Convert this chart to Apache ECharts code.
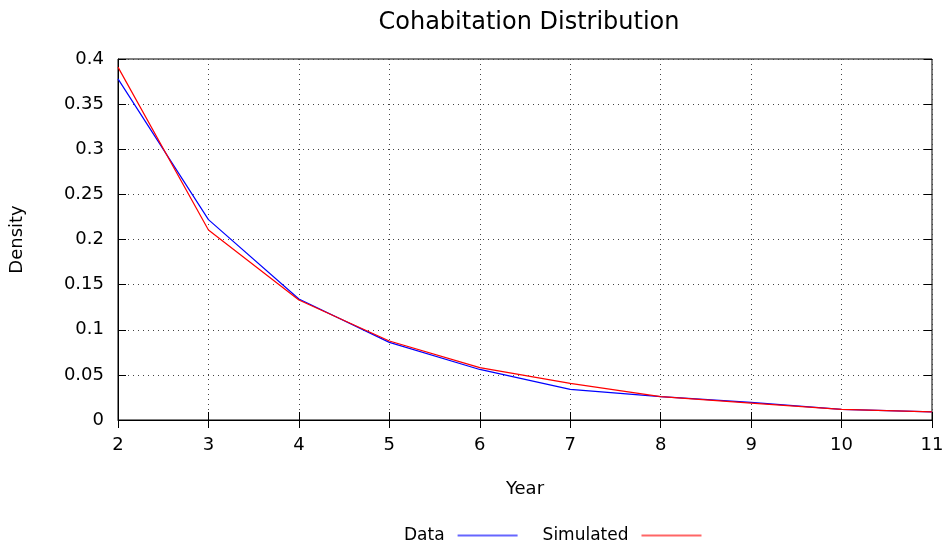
<!DOCTYPE html>
<html>
<head>
<meta charset="utf-8">
<script src="https://cdn.jsdelivr.net/npm/echarts@6/dist/echarts.min.js"></script>
<style>
  html, body { margin: 0; padding: 0; background: #fff; }
  #main { width: 950px; height: 554px; }
</style>
</head>
<body>
<div id="main"></div>
<script>
var years = [2, 3, 4, 5, 6, 7, 8, 9, 10, 11];
var dataValues = [0.378, 0.222, 0.134, 0.086, 0.056, 0.034, 0.026, 0.0196, 0.0118, 0.0089];
var simulatedValues = [0.391, 0.2105, 0.133, 0.0875, 0.058, 0.0406, 0.0258, 0.0188, 0.0118, 0.0089];

function pairs(xs, ys) {
  return xs.map(function (x, i) { return [x, ys[i]]; });
}

var myChart = echarts.init(document.getElementById('main'));
var font = 'DejaVu Sans';
var option = {
  animation: false,
  title: {
    text: 'Cohabitation Distribution',
    left: 524,
    textAlign: 'center',
    top: 6,
    textStyle: { fontFamily: font, fontWeight: 'normal', fontSize: 24, color: '#000' }
  },
  legend: {
    bottom: 5,
    left: 399,
    align: 'right',
    itemWidth: 60,
    itemHeight: 2,
    itemGap: 25,
    icon: 'rect',
    itemStyle: { borderWidth: 0 },
    textStyle: { fontFamily: font, fontSize: 17, color: '#000', padding: [0, 8, 0, 0] },
    data: [
      { name: 'Data', itemStyle: { color: '#6666ff', borderWidth: 0 } },
      { name: 'Simulated', itemStyle: { color: '#ff6666', borderWidth: 0 } }
    ]
  },
  grid: {
    left: 117, right: 18, top: 59, bottom: 134,
    show: true, borderColor: '#000', borderWidth: 1
  },
  xAxis: [{
    type: 'value',
    min: 2, max: 11, interval: 1,
    name: 'Year',
    nameLocation: 'middle',
    nameGap: 60,
    nameTextStyle: { fontFamily: font, fontSize: 18, color: '#000' },
    axisLine: { lineStyle: { color: '#000' } },
    axisTick: { inside: true, length: 8, lineStyle: { color: '#000' } },
    axisLabel: { fontFamily: font, fontSize: 18, color: '#000', margin: 16 },
    splitLine: { show: true, lineStyle: { type: [1, 4], color: '#444' } }
  }, {
    type: 'value', position: 'top',
    min: 2, max: 11, interval: 1,
    axisLine: { show: false },
    axisTick: { inside: true, length: 8, lineStyle: { color: '#000' } },
    axisLabel: { show: false },
    splitLine: { show: false }
  }],
  yAxis: [{
    type: 'value',
    min: 0, max: 0.4, interval: 0.05,
    name: 'Density',
    nameLocation: 'middle',
    nameGap: 92,
    nameRotate: 90,
    nameTextStyle: { fontFamily: font, fontSize: 18, color: '#000' },
    axisLine: { show: true, lineStyle: { color: '#000' } },
    axisTick: { show: true, inside: true, length: 8, lineStyle: { color: '#000' } },
    axisLabel: { fontFamily: font, fontSize: 18, color: '#000', margin: 14 },
    splitLine: { show: true, lineStyle: { type: [1, 4], color: '#444' } }
  }, {
    type: 'value', position: 'right',
    min: 0, max: 0.4, interval: 0.05,
    axisLine: { show: false },
    axisTick: { show: true, inside: true, length: 8, lineStyle: { color: '#000' } },
    axisLabel: { show: false },
    splitLine: { show: false }
  }],
  series: [{
    name: 'Data',
    type: 'line',
    data: pairs(years, dataValues),
    showSymbol: false,
    color: '#0000ff',
    lineStyle: { width: 1.2, color: '#0000ff' }
  }, {
    name: 'Simulated',
    type: 'line',
    data: pairs(years, simulatedValues),
    showSymbol: false,
    color: '#ff0000',
    lineStyle: { width: 1.2, color: '#ff0000' }
  }]
};
myChart.setOption(option);
</script>
</body>
</html>
